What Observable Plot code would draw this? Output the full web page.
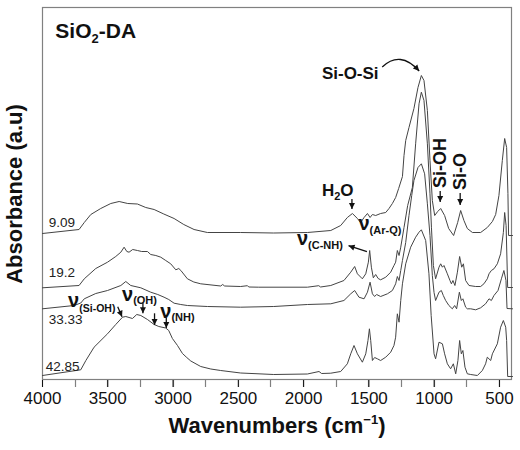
<!DOCTYPE html>
<html><head><meta charset="utf-8">
<script src="https://cdn.jsdelivr.net/npm/d3@7"></script>
<script src="https://cdn.jsdelivr.net/npm/@observablehq/plot@0.6"></script>
<style>body{margin:0;background:#fff}#chart{width:520px;height:450px}</style>
</head><body><div id="chart"></div>
<script>
// [wavenumber (cm-1), absorbance (a.u., offset)]
const s909 = [[4000,1.47],[3720,1.51],[3680,1.58],[3630,1.66],[3554,1.72],[3477,1.77],[3413,1.79],[3347,1.77],[3273,1.765],[3209,1.73],[3145,1.71],[3071,1.665],[2992,1.62],[2918,1.56],[2839,1.51],[2737,1.48],[2482,1.48],[2229,1.475],[1971,1.48],[1792,1.50],[1716,1.55],[1665,1.63],[1626,1.67],[1588,1.62],[1563,1.58],[1537,1.63],[1511,1.67],[1491,1.63],[1473,1.66],[1448,1.65],[1410,1.67],[1371,1.68],[1346,1.72],[1320,1.77],[1295,1.83],[1272,1.92],[1243,2.04],[1231,2.25],[1218,2.40],[1193,2.53],[1155,2.72],[1124,2.93],[1098,3.05],[1078,3.00],[1052,2.70],[1032,2.20],[1014,1.80],[996,1.65],[973,1.69],[950,1.72],[920,1.65],[889,1.52],[851,1.45],[820,1.58],[797,1.70],[772,1.60],[746,1.52],[707,1.48],[644,1.48],[593,1.53],[554,1.59],[529,1.66],[504,1.85],[478,2.20],[460,2.42],[445,2.33],[435,1.87],[430,1.45],[400,1.45]];
const s192 = [[4000,0.927],[3720,0.95],[3680,1.017],[3592,1.12],[3502,1.183],[3439,1.24],[3400,1.283],[3375,1.333],[3354,1.29],[3337,1.283],[3309,1.31],[3273,1.30],[3240,1.29],[3196,1.29],[3171,1.26],[3132,1.25],[3094,1.233],[3056,1.20],[3018,1.167],[2979,1.107],[2956,1.12],[2940,1.10],[2890,1.017],[2841,0.985],[2788,0.967],[2635,0.945],[2620,0.96],[2605,0.945],[2482,0.94],[2430,0.948],[2420,0.935],[2344,0.933],[1971,0.933],[1884,0.948],[1870,0.935],[1792,0.95],[1691,1.00],[1639,1.083],[1609,1.14],[1588,1.067],[1550,1.017],[1524,1.067],[1504,1.183],[1494,1.30],[1481,1.133],[1466,1.027],[1448,1.06],[1429,1.02],[1410,1.007],[1371,1.033],[1333,1.083],[1308,1.15],[1295,1.183],[1282,1.30],[1269,1.25],[1256,1.333],[1231,1.53],[1203,1.75],[1167,1.93],[1142,2.367],[1116,2.767],[1098,2.883],[1078,2.80],[1052,2.367],[1032,1.867],[1021,1.533],[1006,1.15],[989,1.017],[963,1.133],[950,1.167],[937,1.133],[925,1.15],[899,1.067],[879,1.00],[868,0.967],[856,1.00],[841,0.95],[822,1.083],[805,1.24],[789,1.133],[776,1.167],[759,1.00],[733,0.95],[682,0.94],[644,0.94],[619,0.967],[593,1.017],[580,1.067],[562,1.10],[542,1.117],[516,1.167],[491,1.267],[470,1.48],[460,1.68],[449,1.55],[437,0.93],[400,0.93]];
const s3333 = [[4000,0.717],[3758,0.75],[3707,0.775],[3680,0.817],[3592,0.87],[3502,0.90],[3400,0.95],[3362,0.99],[3324,0.95],[3247,0.927],[3171,0.883],[3117,0.86],[3069,0.833],[3033,0.81],[2992,0.773],[2941,0.76],[2890,0.75],[2737,0.74],[2482,0.733],[2229,0.74],[1971,0.76],[1792,0.767],[1691,0.80],[1639,0.867],[1609,0.90],[1576,0.833],[1537,0.817],[1511,0.883],[1491,0.983],[1473,0.867],[1456,0.84],[1441,0.86],[1410,0.84],[1358,0.867],[1320,0.90],[1295,0.967],[1282,1.04],[1269,1.00],[1256,1.10],[1243,1.20],[1218,1.38],[1193,1.65],[1172,1.85],[1155,2.00],[1124,2.13],[1098,2.167],[1073,2.067],[1052,1.767],[1032,1.45],[1014,1.05],[1001,0.88],[989,0.80],[963,0.883],[945,0.90],[930,0.85],[912,0.80],[887,0.75],[861,0.717],[843,0.75],[828,0.717],[807,0.883],[792,0.80],[780,0.817],[759,0.733],[746,0.717],[720,0.717],[682,0.707],[644,0.727],[606,0.767],[580,0.817],[562,0.80],[542,0.85],[511,0.90],[485,1.017],[466,1.10],[450,1.00],[442,0.72],[400,0.717]];
const s4285 = [[4000,0.05],[3707,0.107],[3668,0.20],[3605,0.333],[3502,0.467],[3439,0.56],[3387,0.633],[3362,0.64],[3311,0.62],[3278,0.66],[3247,0.65],[3196,0.61],[3145,0.56],[3109,0.54],[3056,0.525],[3033,0.50],[3005,0.42],[2966,0.35],[2928,0.27],[2895,0.23],[2864,0.195],[2788,0.14],[2711,0.115],[2635,0.10],[2482,0.075],[2229,0.06],[1971,0.065],[1882,0.09],[1862,0.07],[1792,0.073],[1716,0.09],[1665,0.167],[1639,0.267],[1614,0.35],[1588,0.267],[1550,0.183],[1524,0.267],[1507,0.40],[1496,0.517],[1486,0.40],[1473,0.20],[1456,0.23],[1435,0.217],[1410,0.20],[1371,0.233],[1333,0.283],[1308,0.35],[1295,0.433],[1282,0.667],[1269,0.583],[1256,0.80],[1243,0.967],[1218,1.167],[1180,1.333],[1142,1.433],[1116,1.483],[1098,1.507],[1065,1.40],[1040,1.067],[1023,0.65],[1001,0.267],[989,0.217],[963,0.383],[937,0.367],[920,0.267],[899,0.167],[874,0.117],[853,0.167],[835,0.067],[818,0.20],[805,0.40],[792,0.267],[780,0.30],[764,0.133],[746,0.067],[720,0.06],[669,0.05],[631,0.10],[606,0.167],[593,0.233],[567,0.20],[554,0.267],[516,0.367],[491,0.533],[470,0.60],[452,0.533],[445,0.40],[437,0.04],[400,0.04]];

const seriesNames = ["9.09", "19.2", "33.33", "42.85"];
const seriesData = [s909, s192, s3333, s4285];
const seriesLabelAt = [[3952, 1.54], [3952, 1.033], [3952, 0.57], [3975, 0.10]];
const majorTicks = [4000, 3500, 3000, 2500, 2000, 1500, 1000, 500];
const minorTicks = [3750, 3250, 2750, 2250, 1750, 1250, 750];

// annotations: text pieces [string, size, dy]
const notes = [
  {w: 3898, a: 3.42, parts: [["SiO", 21, 0], ["2", 13, 5], ["-DA", 21, -5]]},
  {w: 1856, a: 3.015, parts: [["Si-O-Si", 17, 0]]},
  {w: 1856, a: 1.84, parts: [["H", 17, 0], ["2", 11, 4], ["O", 17, -4]]},
  {w: 950, a: 1.92, rotate: -90, parts: [["Si-OH", 18, 6]]},
  {w: 797, a: 1.90, rotate: -90, parts: [["Si-O", 18, 6]]},
  {w: 1576, a: 1.50, parts: [["ν", 20, 0], ["(Ar-Q)", 11, 4]]},
  {w: 2047, a: 1.35, parts: [["ν", 20, 0], ["(C-NH)", 11, 4]]},
  {w: 3800, a: 0.73, parts: [["ν", 20, 0], ["(Si-OH)", 10.5, 5]]},
  {w: 3387, a: 0.79, parts: [["ν", 20, 0], ["(OH)", 11, 3]]},
  {w: 3094, a: 0.62, parts: [["ν", 20, 0], ["(NH)", 11, 3]]}
];
const arrowList = [
  [1626, 1.81, 1626, 1.71], [950, 1.89, 950, 1.78], [797, 1.87, 797, 1.75],
  [1511, 1.283, 1652, 1.343], [3420, 0.733, 3387, 0.633], [3227, 0.77, 3227, 0.667],
  [3138, 0.667, 3138, 0.55], [3048, 0.62, 3048, 0.52]
];
const curvedArrow = [1394, 3.13, 1257, 3.30, 1111, 3.09];

const FONT = "'Liberation Sans', Arial, sans-serif";
const rows = seriesData.flatMap((s, i) => s.map(([w, a]) => ({series: seriesNames[i], w, a})));
const labels = seriesNames.map((n, i) => ({n, w: seriesLabelAt[i][0], a: seriesLabelAt[i][1]}));

function head(g, x1, y1, x2, y2) {
  const ang = Math.atan2(y2 - y1, x2 - x1), L = 6, W = 3;
  const bx = x2 - L * Math.cos(ang), by = y2 - L * Math.sin(ang);
  const px = -Math.sin(ang) * W, py = Math.cos(ang) * W;
  g.append("path").attr("d", `M${x2},${y2}L${bx + px},${by + py}L${bx - px},${by - py}Z`).attr("fill", "#111").attr("stroke", "none");
}

function frameAndTicks(index, scales, values, dims) {
  const x = scales.x;
  const g = d3.create("svg:g").attr("fill", "none").attr("stroke", "#808080");
  const L = dims.marginLeft, R = dims.width - dims.marginRight, T = dims.marginTop, B = dims.height - dims.marginBottom;
  g.append("rect").attr("x", L + 0.5).attr("y", T + 0.5).attr("width", R - L - 1).attr("height", B - T - 1).attr("stroke-width", 1.2);
  for (const t of majorTicks.concat(minorTicks)) {
    const px = Math.round(x(t)) + 0.5;
    g.append("line").attr("x1", px).attr("x2", px).attr("y1", B).attr("y2", B + 7).attr("stroke-width", 1.2);
  }
  return g.node();
}

function annotationMark(index, scales, values, dims) {
  const x = scales.x, y = scales.y;
  const g = d3.create("svg:g").attr("font-family", FONT).attr("fill", "#111").attr("text-anchor", "start");
  for (const it of notes) {
    const px = x(it.w), py = y(it.a);
    const t = g.append("text").attr("x", px).attr("y", py).attr("font-weight", "bold").attr("text-anchor", "start");
    if (it.rotate) t.attr("transform", `rotate(${it.rotate} ${px} ${py})`);
    for (const [s, size, dy] of it.parts) t.append("tspan").attr("font-size", size).attr("dy", dy).text(s);
  }
  for (const [w1, a1, w2, a2] of arrowList) {
    const x1 = x(w1), y1 = y(a1), x2 = x(w2), y2 = y(a2);
    g.append("line").attr("x1", x1).attr("y1", y1).attr("x2", x2).attr("y2", y2).attr("stroke", "#111").attr("stroke-width", 1.3);
    head(g, x1, y1, x2, y2);
  }
  const [cw1, ca1, cw2, ca2, cw3, ca3] = curvedArrow;
  const c1 = [x(cw1), y(ca1)], c2 = [x(cw2), y(ca2)], c3 = [x(cw3), y(ca3)];
  g.append("path").attr("d", `M${c1}Q${c2} ${c3}`).attr("fill", "none").attr("stroke", "#111").attr("stroke-width", 1.3);
  head(g, c2[0], c2[1], c3[0], c3[1]);
  // axis title with superscript
  const xt = g.append("text").attr("x", (dims.marginLeft + dims.width - dims.marginRight) / 2)
    .attr("y", dims.height - dims.marginBottom + 53).attr("text-anchor", "middle")
    .attr("font-weight", "bold").attr("font-size", 22);
  xt.append("tspan").text("Wavenumbers (cm");
  xt.append("tspan").attr("font-size", 13).attr("dy", -9).text("−1");
  xt.append("tspan").attr("dy", 9).text(")");
  return g.node();
}

const chart = Plot.plot({
  width: 520, height: 450,
  marginLeft: 42, marginRight: 8, marginTop: 7, marginBottom: 70,
  style: {fontFamily: FONT, fontSize: "17px", color: "#111", background: "#fff"},
  x: {domain: [4000, 400], axis: null},
  y: {domain: [0, 3.73], axis: null},
  marks: [
    frameAndTicks,
    Plot.axisX({ticks: majorTicks, tickSize: 7, tickPadding: 4, fill: "#111", fontSize: 17, label: null, tickFormat: d => String(d)}),
    Plot.line(rows, {x: "w", y: "a", z: "series", stroke: "#444", strokeWidth: 1}),
    Plot.text(labels, {x: "w", y: "a", text: "n", textAnchor: "start", lineAnchor: "bottom", fontSize: 13.5, fill: "#222"}),
    Plot.text(["Absorbance (a.u)"], {frameAnchor: "left", dx: -28, rotate: -90, textAnchor: "middle", fontSize: 22, fontWeight: "bold", fill: "#111"}),
    annotationMark
  ]
});
document.getElementById("chart").appendChild(chart);
</script>
</body></html>
